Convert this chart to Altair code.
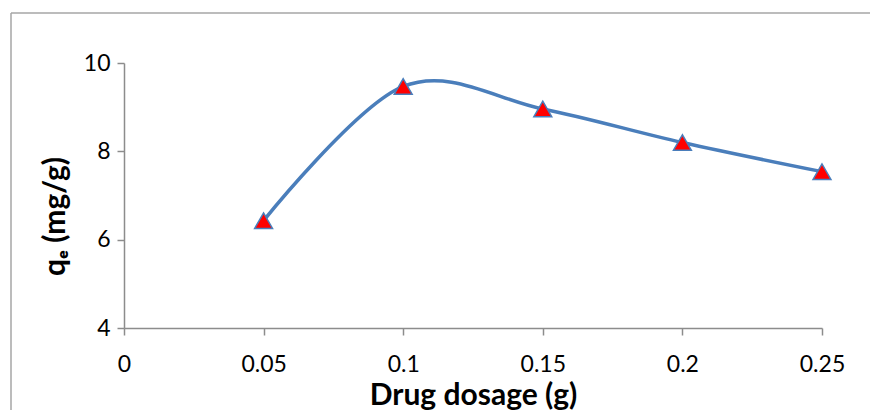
import altair as alt
import pandas as pd

# Data
dosage = [0.05, 0.10, 0.15, 0.20, 0.25]
qe = [6.43, 9.47, 8.96, 8.20, 7.54]

x_ticks = [0, 0.05, 0.10, 0.15, 0.20, 0.25]
y_ticks = [4, 6, 8, 10]

df = pd.DataFrame({"dosage": dosage, "qe": qe})

FONT = "Lato"
AXIS_GRAY = "#8c8c8c"
LINE_BLUE = "#4a7ebb"
FRAME_GRAY = "#a6a6a6"

x_enc = alt.X(
    "dosage:Q",
    scale=alt.Scale(domain=[0, 0.25], nice=False, zero=False),
    axis=alt.Axis(
        values=x_ticks,
        labelExpr="format(datum.value, '~g')",
        title="Drug dosage (g)",
        titleFontSize=30,
        titleFont=FONT,
        titleFontWeight="bold",
        titleColor="#000000",
        titleBaseline="alphabetic",
        titleY=76,
        labelFontSize=23,
        labelFont=FONT,
        labelColor="#000000",
        labelPadding=18,
        tickSize=7,
        tickColor=AXIS_GRAY,
        tickWidth=1.5,
        domainColor=AXIS_GRAY,
        domainWidth=1.5,
        grid=False,
        labelFlush=False,
    ),
)

y_enc = alt.Y(
    "qe:Q",
    scale=alt.Scale(domain=[4, 10], nice=False, zero=False),
    axis=alt.Axis(
        values=y_ticks,
        title="qₑ (mg/g)",
        titleFontSize=30,
        titleFont=FONT,
        titleFontWeight="bold",
        titleColor="#000000",
        titleAngle=270,
        titleBaseline="alphabetic",
        titleAlign="center",
        titleX=-60,
        titleY=153,
        labelFontSize=23,
        labelFont=FONT,
        labelColor="#000000",
        labelPadding=7,
        tickSize=7,
        tickColor=AXIS_GRAY,
        tickWidth=1.5,
        domainColor=AXIS_GRAY,
        domainWidth=1.5,
        grid=False,
        labelFlush=False,
    ),
)

frame_data = alt.Data(values=[{"k": 1}])
frame_top = alt.Chart(frame_data).mark_rule(
    color=FRAME_GRAY, strokeWidth=1.5
).encode(x=alt.value(-113), x2=alt.value(760), y=alt.value(-50))
frame_left = alt.Chart(frame_data).mark_rule(
    color=FRAME_GRAY, strokeWidth=1.5
).encode(x=alt.value(-113), y=alt.value(-50), y2=alt.value(400))

line = alt.Chart(df).mark_line(
    color=LINE_BLUE, strokeWidth=3.5, interpolate="cardinal"
).encode(x=x_enc, y=y_enc)

points = alt.Chart(df).mark_point(
    shape="triangle-up", filled=True, fill="#ff0000", stroke=LINE_BLUE,
    strokeWidth=1.5, size=320, opacity=1
).encode(x="dosage:Q", y="qe:Q")

chart = alt.layer(frame_top, frame_left, line, points).properties(
    width=698,
    height=265,
    autosize=alt.AutoSizeParams(type="none"),
    padding={"left": 116, "top": 55, "right": 48, "bottom": 82},
).configure_view(strokeWidth=0)

chart.save("out.html", embed_options={"renderer": "svg", "actions": False})
